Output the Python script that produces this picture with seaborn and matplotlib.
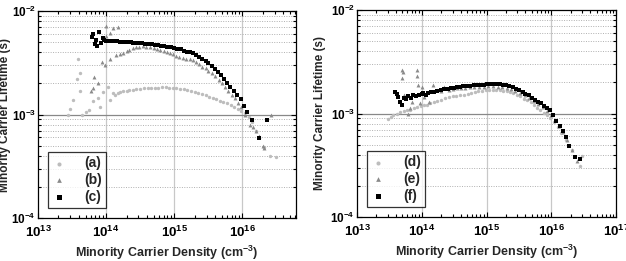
import numpy as np
import pandas as pd
import matplotlib
matplotlib.use("Agg")
import matplotlib.pyplot as plt
import matplotlib.ticker as mticker
import seaborn as sns

# =============================== #
# data
# =============================== #
# left panel: (a) light, (b) grey, (c) black
a_x = [2.8e13, 3.0e13, 3.3e13, 3.7e13, 3.9e13, 4.1e13, 4.2e13, 4.4e13, 5.0e13, 5.7e13,
       6.5e13, 7.7e13, 8.2e13, 9.1e13, 1.08e14, 1.15e14, 1.25e14, 1.35e14, 1.5e14, 1.6e14,
       1.8e14, 2.0e14, 2.2e14, 2.5e14, 2.8e14, 3.2e14, 3.6e14, 4.1e14, 4.6e14, 5.2e14,
       5.9e14, 6.6e14, 7.5e14, 8.5e14, 9.6e14, 1.08e15, 1.22e15, 1.38e15, 1.55e15, 1.75e15,
       2.0e15, 2.25e15, 2.55e15, 2.9e15, 3.3e15, 3.7e15, 4.2e15, 4.7e15, 5.3e15, 6.0e15,
       6.8e15, 7.7e15, 8.7e15, 9.8e15, 1.1e16, 1.25e16, 1.4e16, 1.6e16, 1.8e16, 2.1e16,
       2.6e16, 3.2e16]
a_y = [1.0e-3, 1.12e-3, 1.38e-3, 2.2e-3, 3.4e-3, 2.5e-3, 1.7e-3, 9.9e-4, 1.05e-3, 1.1e-3,
       1.35e-3, 1.43e-3, 1.18e-3, 1.66e-3, 1.86e-3, 1.38e-3, 1.6e-3, 1.55e-3, 1.6e-3, 1.66e-3,
       1.68e-3, 1.7e-3, 1.72e-3, 1.74e-3, 1.76e-3, 1.78e-3, 1.79e-3, 1.8e-3, 1.81e-3, 1.82e-3,
       1.82e-3, 1.83e-3, 1.83e-3, 1.82e-3, 1.81e-3, 1.8e-3, 1.78e-3, 1.75e-3, 1.72e-3, 1.69e-3,
       1.65e-3, 1.62e-3, 1.58e-3, 1.53e-3, 1.48e-3, 1.44e-3, 1.4e-3, 1.36e-3, 1.32e-3, 1.28e-3,
       1.24e-3, 1.19e-3, 1.14e-3, 1.09e-3, 1.03e-3, 9.5e-4, 8.5e-4, 7.0e-4, 6.0e-4, 4.8e-4,
       4.0e-4, 3.9e-4]

b_x = [6.0e13, 6.5e13, 6.6e13, 7.7e13, 8.6e13, 9.5e13, 1.0e14, 1.0e14, 1.15e14, 1.15e14,
       1.25e14, 1.4e14, 1.5e14, 1.6e14, 1.8e14, 2.0e14, 2.2e14, 2.5e14, 2.8e14, 3.1e14,
       3.5e14, 3.9e14, 4.4e14, 5.0e14, 5.6e14, 6.3e14, 7.0e14, 7.8e14, 8.7e14, 9.7e14,
       1.08e15, 1.2e15, 1.35e15, 1.5e15, 1.7e15, 1.9e15, 2.1e15, 2.35e15, 2.6e15, 2.9e15,
       3.2e15, 3.6e15, 4.0e15, 4.5e15, 5.0e15, 5.6e15, 6.3e15, 7.0e15, 7.8e15, 8.7e15,
       9.7e15, 1.1e16, 1.3e16, 1.45e16, 1.6e16, 1.8e16, 2.0e16, 2.1e16, 2.7e16]
b_y = [1.7e-3, 1.8e-3, 2.3e-3, 2.0e-3, 3.2e-3, 3.0e-3, 7.2e-3, 5.7e-3, 6.1e-3, 3.4e-3,
       6.8e-3, 3.75e-3, 7.0e-3, 3.8e-3, 3.9e-3, 4.1e-3, 4.2e-3, 4.35e-3, 4.45e-3, 4.5e-3,
       4.55e-3, 4.5e-3, 4.45e-3, 4.4e-3, 4.3e-3, 4.2e-3, 4.1e-3, 4.0e-3, 3.9e-3, 3.8e-3,
       3.7e-3, 3.6e-3, 3.5e-3, 3.45e-3, 3.4e-3, 3.35e-3, 3.2e-3, 3.05e-3, 2.9e-3, 2.8e-3,
       2.65e-3, 2.5e-3, 2.35e-3, 2.15e-3, 2.0e-3, 1.85e-3, 1.7e-3, 1.55e-3, 1.45e-3, 1.3e-3,
       1.18e-3, 1.0e-3, 8.0e-4, 7.5e-4, 7.0e-4, 6.2e-4, 5.0e-4, 4.7e-4, 1.0e-3]

c_x = [6.3e13, 6.5e13, 6.8e13, 7.1e13, 7.3e13, 8.0e13, 8.4e13, 9.0e13, 9.4e13,
       1.0e14, 1.1e14, 1.2e14, 1.3e14, 1.45e14, 1.6e14, 1.75e14, 1.9e14, 2.1e14, 2.3e14,
       2.5e14, 2.8e14, 3.1e14, 3.4e14, 3.8e14, 4.2e14, 4.7e14, 5.2e14, 5.8e14, 6.5e14,
       7.2e14, 8.0e14, 9.0e14, 1.0e15, 1.12e15, 1.25e15, 1.4e15, 1.55e15, 1.72e15, 1.9e15,
       2.1e15, 2.35e15, 2.6e15, 2.9e15, 3.2e15, 3.6e15, 4.0e15, 4.4e15, 4.9e15, 5.4e15,
       6.0e15, 6.7e15, 7.5e15, 8.5e15, 9.5e15, 1.07e16, 1.2e16, 1.4e16, 1.8e16, 2.3e16]
c_y = [5.6e-3, 6.0e-3, 4.8e-3, 5.3e-3, 4.6e-3, 6.2e-3, 4.9e-3, 5.5e-3, 5.2e-3,
       5.15e-3, 5.1e-3, 5.1e-3, 5.1e-3, 5.1e-3, 5.05e-3, 5.05e-3, 5.0e-3, 5.0e-3, 5.0e-3,
       4.95e-3, 4.95e-3, 4.9e-3, 4.9e-3, 4.85e-3, 4.8e-3, 4.75e-3, 4.7e-3, 4.65e-3, 4.6e-3,
       4.55e-3, 4.5e-3, 4.45e-3, 4.4e-3, 4.3e-3, 4.25e-3, 4.15e-3, 4.05e-3, 4.0e-3, 3.9e-3,
       3.75e-3, 3.6e-3, 3.45e-3, 3.3e-3, 3.15e-3, 2.95e-3, 2.75e-3, 2.6e-3, 2.4e-3, 2.2e-3,
       2.0e-3, 1.85e-3, 1.7e-3, 1.55e-3, 1.4e-3, 1.2e-3, 1.05e-3, 8.8e-4, 5.9e-4, 8.9e-4]

# right panel: (d) light, (e) grey, (f) black
d_x = [3.0e13, 3.3e13, 3.65e13, 4.1e13, 4.6e13, 5.3e13, 6.0e13, 6.6e13, 7.5e13, 8.5e13,
       9.6e13, 1.08e14, 1.2e14, 1.35e14, 1.55e14, 1.75e14, 2.0e14, 2.3e14, 2.6e14, 3.0e14,
       3.4e14, 3.9e14, 4.5e14, 5.1e14, 5.8e14, 6.6e14, 7.5e14, 8.5e14, 9.7e14, 1.1e15,
       1.25e15, 1.42e15, 1.6e15, 1.8e15, 2.05e15, 2.3e15, 2.6e15, 2.95e15, 3.35e15, 3.8e15,
       4.2e15, 4.8e15, 5.4e15, 6.1e15, 6.8e15, 7.7e15, 8.7e15, 9.6e15, 1.1e16, 1.25e16,
       1.4e16, 1.7e16, 2.1e16, 2.8e16, 3.0e16]
d_y = [8.9e-4, 9.2e-4, 9.6e-4, 1.0e-3, 1.04e-3, 1.06e-3, 1.08e-3, 1.08e-3, 1.12e-3, 1.15e-3,
       1.18e-3, 1.2e-3, 1.2e-3, 1.25e-3, 1.3e-3, 1.33e-3, 1.36e-3, 1.4e-3, 1.43e-3, 1.46e-3,
       1.48e-3, 1.5e-3, 1.52e-3, 1.55e-3, 1.58e-3, 1.62e-3, 1.64e-3, 1.66e-3, 1.67e-3, 1.68e-3,
       1.68e-3, 1.68e-3, 1.67e-3, 1.66e-3, 1.64e-3, 1.61e-3, 1.57e-3, 1.52e-3, 1.46e-3, 1.39e-3,
       1.35e-3, 1.28e-3, 1.21e-3, 1.14e-3, 1.08e-3, 1.01e-3, 9.6e-4, 9.1e-4, 8.2e-4, 7.4e-4,
       6.5e-4, 5.5e-4, 4.4e-4, 3.1e-4, 3.9e-4]

e_x = [4.9e13, 5.0e13, 5.1e13, 5.3e13, 6.2e13, 6.6e13, 7.0e13, 8.3e13, 8.4e13, 8.9e13,
       9.4e13, 1.0e14, 1.1e14, 1.3e14, 1.5e14, 1.7e14, 2.0e14, 2.2e14, 2.6e14, 3.0e14,
       3.5e14, 4.0e14, 4.7e14, 5.5e14, 6.5e14, 7.6e14, 9.0e14, 1.05e15, 1.25e15, 1.5e15,
       1.75e15, 2.05e15, 2.4e15, 2.8e15, 3.3e15, 3.9e15, 4.6e15, 5.4e15, 6.3e15, 7.4e15,
       8.7e15, 1.0e16, 1.15e16, 1.3e16, 1.5e16, 1.75e16, 2.1e16, 2.5e16]
e_y = [2.18e-3, 2.63e-3, 2.5e-3, 1.5e-3, 1.0e-3, 1.12e-3, 1.3e-3, 2.3e-3, 2.63e-3, 1.88e-3,
       1.25e-3, 1.8e-3, 1.45e-3, 1.3e-3, 1.88e-3, 1.7e-3, 1.65e-3, 1.82e-3, 1.7e-3, 1.72e-3,
       1.75e-3, 1.76e-3, 1.78e-3, 1.8e-3, 1.8e-3, 1.82e-3, 1.82e-3, 1.83e-3, 1.83e-3, 1.82e-3,
       1.8e-3, 1.77e-3, 1.72e-3, 1.66e-3, 1.58e-3, 1.5e-3, 1.42e-3, 1.33e-3, 1.24e-3, 1.15e-3,
       1.06e-3, 9.6e-4, 8.6e-4, 7.6e-4, 6.6e-4, 5.5e-4, 4.4e-4, 3.5e-4]

f_x = [3.9e13, 4.1e13, 4.3e13, 4.6e13, 4.9e13, 5.3e13, 5.8e13, 6.2e13, 6.8e13, 7.4e13,
       8.2e13, 9.0e13, 1.0e14, 1.06e14, 1.15e14, 1.25e14, 1.4e14, 1.55e14, 1.75e14, 1.95e14,
       2.2e14, 2.5e14, 2.8e14, 3.1e14, 3.5e14, 3.9e14, 4.4e14, 5.0e14, 5.6e14, 6.3e14,
       7.1e14, 8.0e14, 9.0e14, 1.0e15, 1.12e15, 1.26e15, 1.42e15, 1.6e15, 1.8e15, 2.0e15,
       2.25e15, 2.55e15, 2.85e15, 3.2e15, 3.6e15, 4.0e15, 4.5e15, 5.0e15, 5.6e15, 6.3e15,
       7.0e15, 7.8e15, 8.7e15, 9.6e15, 1.07e16, 1.2e16, 1.35e16, 1.5e16, 1.7e16, 1.9e16,
       2.3e16, 2.8e16]
f_y = [1.62e-3, 1.55e-3, 1.45e-3, 1.3e-3, 1.2e-3, 1.4e-3, 1.38e-3, 1.46e-3, 1.42e-3, 1.5e-3,
       1.48e-3, 1.52e-3, 1.55e-3, 1.57e-3, 1.5e-3, 1.58e-3, 1.6e-3, 1.63e-3, 1.65e-3, 1.68e-3,
       1.72e-3, 1.74e-3, 1.76e-3, 1.78e-3, 1.8e-3, 1.82e-3, 1.83e-3, 1.85e-3, 1.86e-3, 1.87e-3,
       1.88e-3, 1.9e-3, 1.9e-3, 1.91e-3, 1.92e-3, 1.92e-3, 1.92e-3, 1.92e-3, 1.9e-3, 1.87e-3,
       1.84e-3, 1.8e-3, 1.74e-3, 1.67e-3, 1.6e-3, 1.55e-3, 1.5e-3, 1.42e-3, 1.36e-3, 1.3e-3,
       1.25e-3, 1.19e-3, 1.13e-3, 1.08e-3, 9.7e-4, 8.5e-4, 7.6e-4, 6.8e-4, 5.9e-4, 4.8e-4,
       3.8e-4, 3.6e-4]

left_series = [("(a)", a_x, a_y), ("(b)", b_x, b_y), ("(c)", c_x, c_y)]
right_series = [("(d)", d_x, d_y), ("(e)", e_x, e_y), ("(f)", f_x, f_y)]

# style per series position
colors = ["#bdbdbd", "#8a8a8a", "#000000"]
markers = ["o", "^", "s"]
sizes = [6, 8, 9]

# =============================== #
# figure
# =============================== #
sns.set_style("ticks")
plt.rcParams["font.family"] = ["Liberation Sans", "DejaVu Sans"]
plt.rcParams["font.weight"] = "bold"
plt.rcParams["mathtext.fontset"] = "custom"
plt.rcParams["mathtext.rm"] = "Liberation Sans:bold"
plt.rcParams["mathtext.bf"] = "Liberation Sans:bold"
plt.rcParams["mathtext.it"] = "Liberation Sans:bold"
plt.rcParams["mathtext.default"] = "bf"

f = plt.figure(figsize=(6.26, 2.61), dpi=100)
ax1 = f.add_axes([38 / 626, 1 - 218 / 261, 258 / 626, 207 / 261])
ax2 = f.add_axes([357 / 626, 1 - 217 / 261, 259 / 626, 207 / 261])


def log_fmt(v, pos):
    return r"$\mathbf{10^{%d}}$" % int(round(np.log10(v)))


panels = [(ax1, left_series, 6.2e16, -0.103), (ax2, right_series, 1e17, -0.118)]
for ax, series, xmax, ylab_x in panels:
    ax.set_xscale("log")
    ax.set_yscale("log")

    # grid: vertical decades, dotted minor horizontals, solid 1e-3
    for dec in [1e14, 1e15, 1e16]:
        ax.axvline(dec, color="#c8c8c8", lw=0.9, zorder=0)
    ax.yaxis.grid(True, which="minor", color="#b0b0b0", ls=(0, (1, 1.5)), lw=0.7, zorder=0)
    ax.axhline(1e-3, color="#888888", lw=0.9, zorder=0)

    for k, (lab, xs, ys) in enumerate(series):
        df = pd.DataFrame({"x": xs, "y": ys})
        sns.scatterplot(data=df, x="x", y="y", ax=ax, color=colors[k], marker=markers[k],
                        s=sizes[k], linewidth=0, label=lab, zorder=2 + k)

    ax.set_xlim(1e13, xmax)
    ax.set_ylim(1e-4, 1e-2)
    ax.xaxis.set_major_locator(mticker.LogLocator(base=10, numticks=10))
    ax.xaxis.set_major_formatter(mticker.FuncFormatter(log_fmt))
    ax.yaxis.set_major_formatter(mticker.FuncFormatter(log_fmt))
    ax.yaxis.set_minor_formatter(mticker.NullFormatter())
    ax.xaxis.set_minor_formatter(mticker.NullFormatter())
    ax.tick_params(which="both", direction="in", top=True, right=True, width=0.8,
                   colors="black")
    ax.tick_params(axis="x", which="major", pad=5, labelsize=9.5)
    ax.tick_params(axis="y", which="major", pad=1.5, labelsize=8.5)
    ax.tick_params(which="major", length=3.5)
    ax.tick_params(which="minor", length=2)
    for sp in ax.spines.values():
        sp.set_color("black")
        sp.set_linewidth(0.9)

    ax.set_xlabel("Minority Carrier Density (cm$^{-3}$)", fontsize=9, fontweight="bold")
    ax.xaxis.set_label_coords(0.5, -0.125)
    ax.set_ylabel("Minority Carrier Lifetime (s)", fontsize=8.5, fontweight="bold")
    ax.yaxis.set_label_coords(ylab_x, 0.5)

    leg = ax.legend(loc="lower left", bbox_to_anchor=(0.038, 0.048), borderaxespad=0,
                    frameon=True, fancybox=False, edgecolor="black", fontsize=10,
                    handlelength=1.0, handletextpad=1.3, labelspacing=0.2,
                    borderpad=0.3, markerscale=1.2)
    leg.get_frame().set_linewidth(0.9)
    for t in leg.get_texts():
        t.set_fontweight("bold")

plt.savefig("out.png", dpi=100)
